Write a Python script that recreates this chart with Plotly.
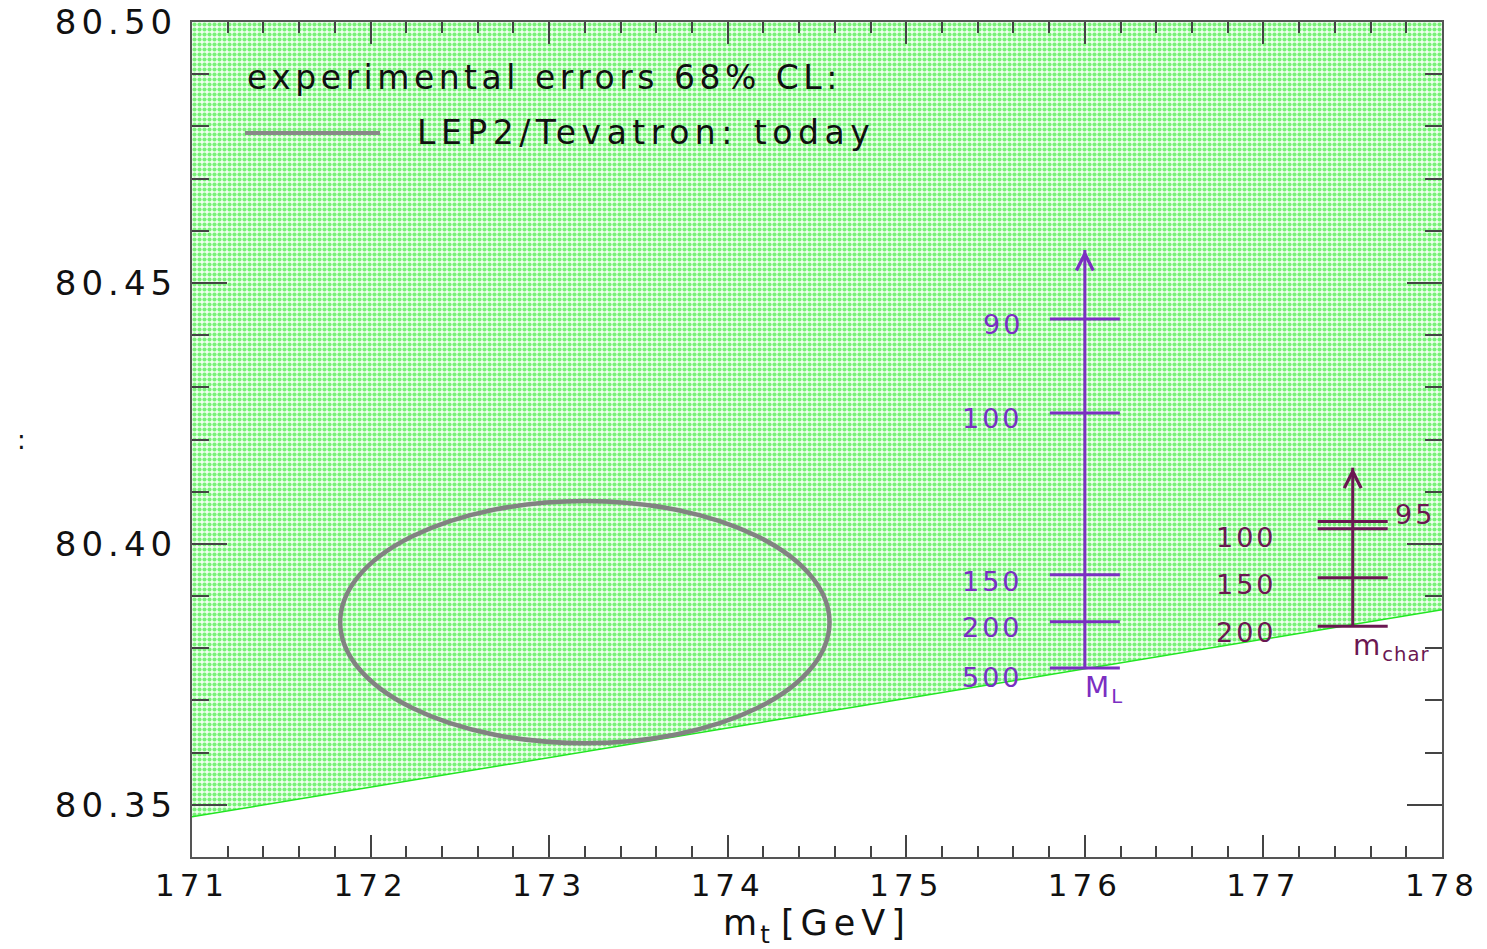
import plotly.graph_objects as go

# ---- data ----
band_x = [171.0, 178.0]
band_lower = [80.3477, 80.3874]
band_upper = [80.50, 80.50]

ellipse_center = (173.2, 80.385)
ellipse_half = (1.37, 0.0232)

ml_x = 176.0
ml_labels = ["90", "100", "150", "200", "500"]
ml_values = [80.4431, 80.4251, 80.3941, 80.3851, 80.3762]
ml_arrow_top = 80.4563

mc_x = 177.5
mc_labels = ["95", "100", "150", "200"]
mc_values = [80.4043, 80.4029, 80.3935, 80.3842]
mc_arrow_top = 80.4146

x_ticks = [171, 172, 173, 174, 175, 176, 177, 178]
y_ticks = [80.35, 80.40, 80.45, 80.50]

PURPLE = "#7b2fc2"
MAROON = "#6b1752"
GREEN = "#22e622"
FONT = "DejaVu Sans"


def wide(s, sp):
    return f'<span style="letter-spacing:{sp}px">{s}</span>'


fig = go.Figure()

# shaded band
fig.add_trace(go.Scatter(x=band_x, y=band_lower, mode="lines",
                         line=dict(color=GREEN, width=1.5), showlegend=False, hoverinfo="skip"))
fig.add_trace(go.Scatter(x=band_x, y=band_upper, mode="lines", fill="tonexty",
                         line=dict(color="rgba(0,0,0,0)", width=0),
                         fillcolor="rgba(255,255,255,1)",
                         fillpattern=dict(shape=".", fgcolor="#00e600", bgcolor="#f0fff0",
                                          size=5, solidity=0.55),
                         showlegend=False, hoverinfo="skip"))

# ellipse
cx, cy = ellipse_center
hx, hy = ellipse_half
fig.add_shape(type="circle", xref="x", yref="y",
              x0=cx - hx, x1=cx + hx, y0=cy - hy, y1=cy + hy,
              line=dict(color="#828282", width=4.5))

# scale (M_L)
fig.add_trace(go.Scatter(x=[ml_x, ml_x], y=[min(ml_values), ml_arrow_top], mode="lines",
                         line=dict(color=PURPLE, width=3), showlegend=False, hoverinfo="skip"))
fig.add_trace(go.Scatter(x=[ml_x] * len(ml_values), y=ml_values, mode="markers",
                         marker=dict(symbol="line-ew", size=50, line=dict(width=3, color=PURPLE)),
                         showlegend=False, hoverinfo="skip"))
fig.add_annotation(x=ml_x, y=ml_arrow_top, ax=ml_x, ay=ml_arrow_top - 0.002,
                   xref="x", yref="y", axref="x", ayref="y", text="", showarrow=True,
                   arrowhead=5, arrowsize=1.1, arrowwidth=3, arrowcolor=PURPLE)
ml_shift = [-6, -6, -7, -6, -9]
for lab, v, s in zip(ml_labels, ml_values, ml_shift):
    fig.add_annotation(x=ml_x, y=v, text=wide(lab, 3), showarrow=False, xanchor="right",
                       xshift=-60, yshift=s, font=dict(family=FONT, size=27, color=PURPLE))
fig.add_annotation(x=ml_x, y=min(ml_values), text=wide("M", 2) + "<sub>L</sub>", showarrow=False,
                   xanchor="left", yanchor="top", xshift=-2, yshift=-1,
                   font=dict(family=FONT, size=28, color=PURPLE))

# scale (m_char)
fig.add_trace(go.Scatter(x=[mc_x, mc_x], y=[min(mc_values), mc_arrow_top], mode="lines",
                         line=dict(color=MAROON, width=3), showlegend=False, hoverinfo="skip"))
fig.add_trace(go.Scatter(x=[mc_x] * len(mc_values), y=mc_values, mode="markers",
                         marker=dict(symbol="line-ew", size=50, line=dict(width=3, color=MAROON)),
                         showlegend=False, hoverinfo="skip"))
fig.add_annotation(x=mc_x, y=mc_arrow_top, ax=mc_x, ay=mc_arrow_top - 0.002,
                   xref="x", yref="y", axref="x", ayref="y", text="", showarrow=True,
                   arrowhead=5, arrowsize=1.1, arrowwidth=3, arrowcolor=MAROON)
mc_pos = [("left", 40, 7), ("right", -74, -9), ("right", -74, -7), ("right", -74, -6)]
for lab, v, (anc, xs, ys) in zip(mc_labels, mc_values, mc_pos):
    fig.add_annotation(x=mc_x, y=v, text=wide(lab, 3), showarrow=False, xanchor=anc,
                       xshift=xs, yshift=ys, font=dict(family=FONT, size=27, color=MAROON))
fig.add_annotation(x=mc_x, y=min(mc_values), text=wide("m", 2) + "<sub>" + wide("char", 1) + "</sub>",
                   showarrow=False, xanchor="left", yanchor="top", xshift=-2, yshift=-1,
                   font=dict(family=FONT, size=28, color=MAROON))

# legend (manual)
fig.add_annotation(xref="paper", yref="paper", x=0.0424, y=0.9341,
                   text=wide("experimental errors 68% CL:", 4.5), showarrow=False,
                   xanchor="left", yanchor="middle", font=dict(family=FONT, size=33, color="#111"))
fig.add_shape(type="line", xref="paper", yref="paper", x0=0.0424, x1=0.1504, y0=0.8671, y1=0.8671,
              line=dict(color="#888888", width=4))
fig.add_annotation(xref="paper", yref="paper", x=0.1784, y=0.8671,
                   text=wide("LEP2/Tevatron: today", 5.5), showarrow=False,
                   xanchor="left", yanchor="middle", font=dict(family=FONT, size=33, color="#111"))

# stray y-axis label
fig.add_annotation(xref="paper", yref="paper", x=-0.1416, y=0.5, text=":", showarrow=False,
                   font=dict(family=FONT, size=26, color="#111"))

axis_common = dict(showline=True, linecolor="#555", linewidth=2, mirror="allticks",
                   ticks="inside", tickcolor="#444", tickwidth=2, showgrid=False, zeroline=False,
                   automargin=False)

fig.update_xaxes(range=[171, 178], tickmode="array", tickvals=x_ticks,
                 ticktext=[wide(str(t), 5) for t in x_ticks], ticklen=22, ticklabelstandoff=0,
                 tickfont=dict(family=FONT, size=31, color="#111"),
                 minor=dict(dtick=0.2, ticklen=11, ticks="inside", tickcolor="#444", tickwidth=2),
                 title=dict(text=wide("m", 3) + "<sub>t</sub>&nbsp;" + wide("[GeV]", 6),
                            font=dict(family=FONT, size=35, color="#111"), standoff=0),
                 **axis_common)
fig.update_yaxes(range=[80.34, 80.50], tickmode="array", tickvals=y_ticks,
                 ticktext=[wide(f"{t:.2f}", 5) for t in y_ticks], ticklen=35, ticklabelstandoff=6,
                 tickfont=dict(family=FONT, size=34, color="#111"),
                 minor=dict(dtick=0.01, ticklen=17, ticks="inside", tickcolor="#444", tickwidth=2),
                 **axis_common)

fig.update_layout(width=1487, height=949, margin=dict(l=192, r=45, t=22, b=92),
                  paper_bgcolor="white", plot_bgcolor="white", showlegend=False)

fig.write_html("out.html")
